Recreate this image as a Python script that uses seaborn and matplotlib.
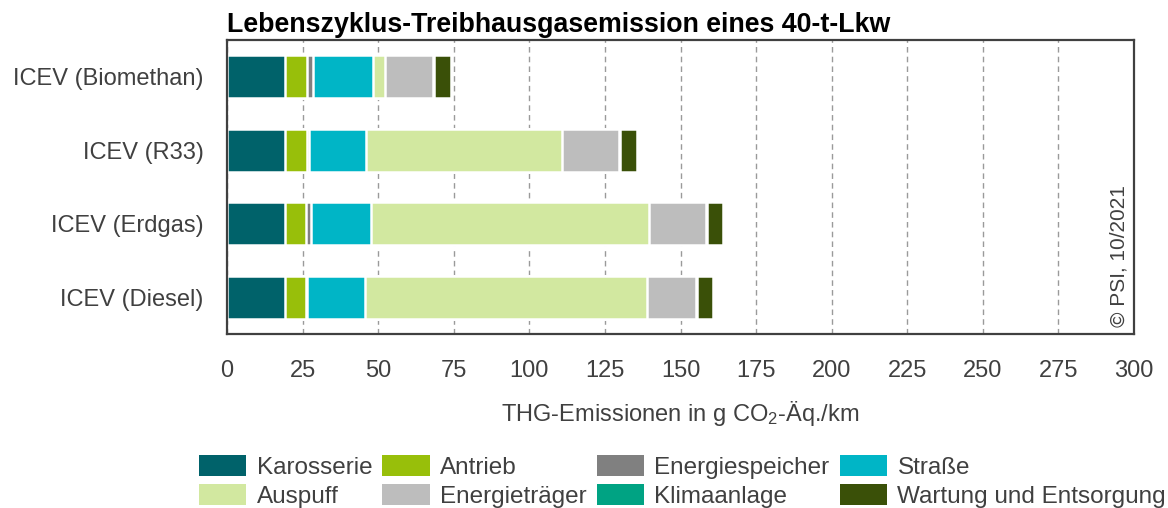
import matplotlib
matplotlib.use("Agg")
import matplotlib.pyplot as plt
from matplotlib.patches import Patch
import numpy as np
import pandas as pd
import seaborn as sns

# Vehicles (top to bottom)
vehicles = ["ICEV (Biomethan)", "ICEV (R33)", "ICEV (Erdgas)", "ICEV (Diesel)"]

# Life-cycle components, stacking order left to right
components = ["Karosserie", "Antrieb", "Energiespeicher", "Straße",
              "Auspuff", "Energieträger", "Klimaanlage", "Wartung und Entsorgung"]

# g CO2-eq. per km, one value per vehicle
karosserie = [19.3, 19.3, 19.3, 19.3]
antrieb = [7.3, 7.2, 6.9, 6.7]
energiespeicher = [1.8, 0.6, 1.7, 0.4]
strasse = [19.8, 19.0, 19.7, 19.2]
auspuff = [3.9, 64.6, 91.9, 93.3]
energietraeger = [16.0, 19.1, 18.8, 16.2]
klimaanlage = [0.3, 0.3, 0.3, 0.3]
wartung = [5.6, 5.5, 5.4, 5.3]

colors = ["#00626A", "#98BF0A", "#808080", "#00B5C6",
          "#D2E8A0", "#BDBDBD", "#00A383", "#3A5008"]

x_ticks = [0, 25, 50, 75, 100, 125, 150, 175, 200, 225, 250, 275, 300]

sns.set_theme(style="white")
plt.rcParams["font.family"] = ["Liberation Sans", "DejaVu Sans"]
plt.rcParams["mathtext.fontset"] = "custom"
plt.rcParams["mathtext.rm"] = "Liberation Sans"
plt.rcParams["mathtext.it"] = "Liberation Sans:italic"
plt.rcParams["mathtext.bf"] = "Liberation Sans:bold"

values = np.array([karosserie, antrieb, energiespeicher, strasse,
                   auspuff, energietraeger, klimaanlage, wartung])
cum = np.cumsum(values, axis=0)

df = pd.DataFrame({"vehicle": [v for _ in components for v in vehicles],
                   "component": [c for c in components for _ in vehicles],
                   "cum": cum.flatten()})

fig = plt.figure(figsize=(11.68, 5.08), dpi=100)
ax = fig.add_axes([227 / 1168, 1 - 334 / 508, (1134 - 227) / 1168, (334 - 40) / 508])

text_col = "#404040"

# Stacked bars: draw the longest cumulative total first, shorter ones on top
for i in range(len(components) - 1, -1, -1):
    sub = df[df["component"] == components[i]]
    sns.barplot(data=sub, x="cum", y="vehicle", order=vehicles, orient="h",
                color=colors[i], saturation=1, width=0.59, errorbar=None,
                edgecolor="white", linewidth=1.8, ax=ax)

ax.set_xlim(0, 300)
ax.set_ylim(3.5, -0.5)
ax.set_xticks(x_ticks)
ax.set_xticklabels([str(t) for t in x_ticks])
ax.xaxis.grid(True, color="#9a9a9a", linestyle=(0, (4, 3)), linewidth=1.0)
ax.yaxis.grid(False)
ax.set_axisbelow(True)

ax.tick_params(axis="x", length=0, pad=19, labelsize=17, labelcolor=text_col)
ax.tick_params(axis="y", length=0, pad=17, labelsize=17, labelcolor=text_col)
ax.set_ylabel("")
ax.set_xlabel("THG-Emissionen in g CO$_2$-Äq./km", fontsize=17,
              color=text_col, labelpad=12)

for s in ax.spines.values():
    s.set_visible(True)
    s.set_color("#404040")
    s.set_linewidth(1.6)

ax.set_title("Lebenszyklus-Treibhausgasemission eines 40-t-Lkw",
             loc="left", fontsize=19.3, fontweight="bold", color="black", pad=6)

ax.text(0.9835, 0.024, "© PSI, 10/2021", rotation=90, transform=ax.transAxes,
        ha="center", va="bottom", fontsize=15, color=text_col)

# Legend: two rows, filled row by row
handles = [Patch(facecolor=c, edgecolor="none") for c in colors]
order = [0, 4, 1, 5, 2, 6, 3, 7]
fig.legend([handles[k] for k in order], [components[k] for k in order],
           ncol=4, loc="upper left", bbox_to_anchor=(199 / 1168, 1 - 455 / 508),
           frameon=False, fontsize=17.5, handlelength=1.95, handleheight=0.95,
           handletextpad=0.42, columnspacing=0.42, labelspacing=0.2,
           borderpad=0, borderaxespad=0, labelcolor=text_col)

fig.savefig("out.png", dpi=100)
